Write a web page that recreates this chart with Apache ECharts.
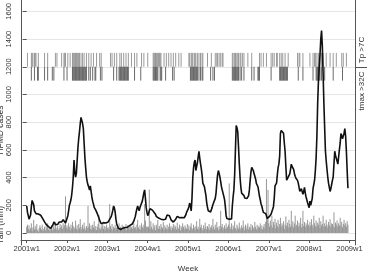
<!DOCTYPE html>
<html><head><meta charset="utf-8">
<script src="https://cdn.jsdelivr.net/npm/echarts@6/dist/echarts.min.js"></script>
<style>html,body{margin:0;padding:0;background:#fff}#c{width:368px;height:278px}</style>
</head><body><div id="c"></div>
<script>
// ---- data (weekly, index 0 = 2001w1) ----
const xTickWeeks = [0, 52, 104, 156, 208, 260, 312, 364, 416];
const xTickLabels = ['2001w1','2002w1','2003w1','2004w1','2005w1','2006w1','2007w1','2008w1','2009w1'];
const yTickValues = [0,200,400,600,800,1000,1200,1400,1600];

const hfmd2001 = [195,150,125,100,95,130,190,235,246,205,160,148,140,150,142,137,140,135,128,120,114,100,92,80,72,62,56,52,46,42,38,34,32,45,62,80,72,60,55,50,62,75,79,82,85,80,88,96,92,84,72,88];
const hfmd2002 = [95,125,160,200,218,240,276,330,404,527,440,404,430,520,613,680,730,790,834,845,790,753,650,544,470,404,370,346,330,311,340,300,260,230,210,185,172,165,160,140,125,110,91,80,67,72,79,75,70,78,72,75];
const hfmd2003 = [72,80,90,100,110,120,140,165,195,180,150,100,65,50,35,28,22,25,20,30,35,30,33,40,38,45,42,44,50,55,52,58,65,75,85,95,120,150,175,195,175,160,185,200,195,230,260,290,311,250,183,150];
const hfmd2004 = [125,140,160,175,183,178,165,155,150,149,135,120,114,110,108,115,105,100,102,98,95,92,91,100,115,130,137,132,125,110,95,91,85,79,85,91,100,112,120,125,118,110,105,102,112,125,118,110,114,130,149,160];
const hfmd2005 = [172,190,216,195,160,250,395,470,510,527,451,480,507,550,590,540,500,465,420,360,346,335,323,270,218,185,160,155,149,152,160,185,206,210,218,250,288,360,420,451,430,404,370,334,310,288,265,241,190,125,105,91];
const hfmd2006 = [95,100,102,98,102,195,260,311,420,600,776,760,730,620,497,400,330,288,295,300,270,253,260,265,250,241,270,311,380,440,474,460,451,430,416,390,358,345,334,300,265,240,210,195,170,149,155,160,140,125,105,91];
const hfmd2007 = [100,120,114,137,150,172,190,250,340,335,360,420,474,497,555,718,740,753,750,720,650,590,480,381,390,404,415,427,460,497,480,470,460,430,410,395,390,380,360,330,300,311,320,300,280,300,330,290,260,240,218,200];
const hfmd2008 = [183,230,200,190,250,320,350,381,450,544,700,939,1100,1200,1287,1400,1461,1350,1150,939,760,590,520,460,404,360,330,300,320,350,380,404,500,590,560,540,520,497,550,602,650,718,700,680,667,720,753,700,590,450,323];

const rain2001 = [45,60,30,55,20,35,70,15,40,95,25,50,30,65,20,10,35,55,40,25,60,15,30,45,20,50,35,70,25,40,15,30,55,20,45,60,30,80,25,40,50,20,35,65,40,55,30,70,45,60,265,40];
const rain2002 = [55,30,70,45,20,60,35,80,50,25,40,90,30,55,20,65,35,100,45,25,60,30,75,40,20,50,35,195,45,70,30,55,25,60,40,85,30,50,20,45,65,130,35,25,55,40,70,30,50,20,45,60];
const rain2003 = [35,40,25,209,50,30,65,20,45,35,60,25,40,55,30,70,20,45,35,60,25,50,40,30,65,20,55,35,45,25,60,40,30,50,70,35,45,25,60,95,40,30,55,25,70,45,35,60,209,90,40,50];
const rain2004 = [40,45,313,30,85,45,25,70,35,55,20,60,40,95,30,50,25,65,45,35,80,20,55,40,30,60,25,45,70,35,50,20,40,65,30,55,45,25,75,40,30,60,20,50,35,70,45,25,55,40,30,65];
const rain2005 = [30,55,20,45,70,35,25,60,40,20,50,85,30,45,25,102,40,60,35,20,55,30,75,45,25,50,35,65,20,40,55,30,102,45,25,60,35,80,40,20,50,30,160,45,65,25,40,55,30,70,35,45];
const rain2006 = [60,358,45,30,70,25,55,40,85,35,20,60,45,30,75,40,25,55,35,90,45,20,60,30,50,70,25,45,35,65,20,55,40,30,80,45,25,60,35,50,40,70,30,55,25,45,65,35,80,390,110,311];
const rain2007 = [70,45,90,55,125,40,80,60,102,35,75,50,95,40,65,110,45,70,55,85,30,60,120,50,75,40,95,65,45,160,55,85,40,70,125,50,60,90,45,75,55,110,40,65,160,50,80,45,70,55,95,60];
const rain2008 = [45,80,55,100,60,40,125,70,50,90,45,75,60,110,40,85,55,65,125,45,70,50,95,60,40,80,55,100,45,70,65,50,149,40,75,60,90,45,70,55,110,50,80,40,65,95,55,70,45,85,60];

// weeks flagged by the two temperature indicators (rug strips)
const tpWeeks = [1,6,7,8,10,11,12,15,23,27,37,39,45,48,49,50,53,56,59,60,61,62,63,64,65,66,67,68,70,72,74,77,80,83,86,90,94,96,108,110,113,116,120,122,125,128,131,135,139,142,148,151,156,163,164,165,166,167,168,169,170,171,172,173,177,180,183,186,189,192,196,199,209,210,212,213,214,216,217,218,220,222,224,226,227,233,238,243,245,246,248,250,252,253,265,266,268,269,270,272,273,275,276,278,280,285,290,300,302,305,309,315,317,319,322,323,326,328,330,333,337,349,351,352,356,365,369,371,372,374,376,378,380,382,386,391,395,399,406,408,412];
const tmaxWeeks = [6,10,14,15,23,27,33,35,48,52,59,60,61,62,63,64,65,66,67,68,69,70,71,72,73,74,75,76,77,80,82,85,88,89,95,97,112,116,119,120,121,122,123,124,125,126,127,128,129,130,131,139,147,163,164,165,166,167,168,169,172,173,174,179,188,190,211,212,213,214,215,216,217,218,219,220,222,224,226,227,237,240,242,265,266,267,268,269,270,271,272,273,275,277,280,290,293,298,299,300,315,326,327,328,329,330,331,332,333,334,335,336,350,356,369,373,374,375,376,377,378,380,384,395,407];

const hfmd = [].concat(hfmd2001,hfmd2002,hfmd2003,hfmd2004,hfmd2005,hfmd2006,hfmd2007,hfmd2008);
const rain = [].concat(rain2001,rain2002,rain2003,rain2004,rain2005,rain2006,rain2007,rain2008);

const FONT = '"Liberation Sans", Arial, sans-serif';
const TXT = '#333';
const FRAME = '#555';

function spikeSeries(data, color, width) {
  return {
    type: 'custom', xAxisIndex: 0, yAxisIndex: 0, silent: true,
    encode: { x: 0, y: [1, 2] },
    data: data,
    renderItem: function (params, api) {
      const p0 = api.coord([api.value(0), api.value(1)]);
      const p1 = api.coord([api.value(0), api.value(2)]);
      return { type: 'line', shape: { x1: p0[0], y1: p0[1], x2: p1[0], y2: p1[1] },
               style: { stroke: color, lineWidth: width } };
    }
  };
}

const chart = echarts.init(document.getElementById('c'), null, { renderer: 'canvas' });
chart.setOption({
  animation: false,
  backgroundColor: '#fff',
  grid: [
    { left: 21, right: 13, top: 9, bottom: 40 },
    { left: 21, right: 13, top: 0, bottom: 33 }
  ],
  xAxis: [
    { type: 'value', gridIndex: 0, min: -7.35, max: 423.1, offset: 7,
      axisLine: { show: true, onZero: false, lineStyle: { color: FRAME, width: 1 } },
      axisTick: { show: true, length: 3, customValues: xTickWeeks, lineStyle: { color: FRAME } },
      axisLabel: { customValues: xTickWeeks, margin: 5, fontSize: 7.5, fontFamily: FONT, color: TXT,
        formatter: function (v) { const i = xTickWeeks.indexOf(Math.round(v)); return i >= 0 ? xTickLabels[i] : ''; } },
      splitLine: { show: false },
      name: 'Week', nameLocation: 'middle', nameGap: 25,
      nameTextStyle: { fontSize: 8, fontFamily: FONT, color: TXT }
    },
    { type: 'value', gridIndex: 1, min: 0, max: 1, show: false }
  ],
  yAxis: [
    { type: 'value', gridIndex: 0, min: yTickValues[0], max: yTickValues[yTickValues.length - 1], interval: 200,
      axisLine: { show: false },
      axisTick: { show: true, length: 4, lineStyle: { color: FRAME } },
      axisLabel: { rotate: 90, margin: 8, fontSize: 7.5, fontFamily: FONT, color: TXT,
        formatter: function (v) { return String(v); } },
      splitLine: { show: true, lineStyle: { color: '#e6e6e6', width: 1 } }
    },
    { type: 'value', gridIndex: 0, position: 'right', min: 0, max: 1600,
      axisLine: { show: false },
      axisTick: { show: true, length: 12, customValues: [1200], lineStyle: { color: FRAME } },
      axisLabel: { customValues: [1321, 1025], rotate: 90, margin: 3, fontSize: 8, fontFamily: FONT, color: TXT,
        formatter: function (v) { return v > 1200 ? 'Tp >7C' : 'tmax >32C'; } },
      splitLine: { show: false }
    },
    { type: 'value', gridIndex: 1, min: 0, max: 1, position: 'left',
      axisLine: { show: true, lineStyle: { color: FRAME, width: 1 } },
      axisTick: { show: false }, axisLabel: { show: false }, splitLine: { show: false } },
    { type: 'value', gridIndex: 1, min: 0, max: 1, position: 'right',
      axisLine: { show: true, lineStyle: { color: FRAME, width: 1 } },
      axisTick: { show: false }, axisLabel: { show: false }, splitLine: { show: false } }
  ],
  graphic: [
    { type: 'text', x: 1, y: 130, rotation: Math.PI / 2,
      style: { text: 'HFMD cases', fontSize: 8.5, fontFamily: FONT, fill: TXT, align: 'center', verticalAlign: 'middle' } },
    { type: 'text', x: 1, y: 224, rotation: Math.PI / 2,
      style: { text: 'rain (mm)', fontSize: 8.5, fontFamily: FONT, fill: TXT, align: 'center', verticalAlign: 'middle' } }
  ],
  series: [
    spikeSeries(rain.map(function (v, i) { return [i, 0, v]; }), '#8c8c8c', 0.9),
    spikeSeries(tpWeeks.map(function (w) { return [w, 1200, 1300]; }), '#8f8f8f', 0.9),
    spikeSeries(tmaxWeeks.map(function (w) { return [w, 1100, 1200]; }), '#5a5a5a', 0.9),
    { type: 'line', xAxisIndex: 0, yAxisIndex: 0, silent: true,
      data: hfmd.map(function (v, i) { return [i, v]; }),
      showSymbol: false, symbol: 'none',
      lineStyle: { color: '#111', width: 1.6 } }
  ]
});
</script>
</body></html>
